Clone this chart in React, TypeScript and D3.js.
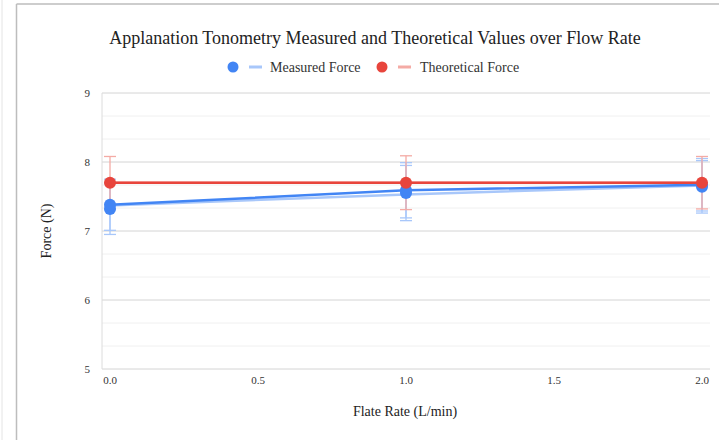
import React from 'react';
import { scaleLinear, line, range } from 'd3';

// flow rate (L/min)
const flowRates = [0, 1, 2];
// measured force, two trials (N)
const measuredA = [7.38, 7.59, 7.67];
const measuredB = [7.32, 7.55, 7.64];
const measuredTrend = [7.37, 7.53, 7.66];
const measuredErr = [0.37, 0.4, 0.38];
// theoretical force (N)
const theoretical = [7.7, 7.7, 7.7];
const theoreticalErr = [0.38, 0.39, 0.38];

const yTicks = [5, 6, 7, 8, 9];
const xTicks = [0, 0.5, 1, 1.5, 2];

const W = 719;
const H = 440;
const BLUE = '#4285f4';
const BLUE_LIGHT = '#a8c7fa';
const RED = '#e8453c';
const RED_LIGHT = '#f4aba5';
const serif = { fontFamily: "'Liberation Serif', 'Times New Roman', Times, 'DejaVu Serif', serif" };

export default function App() {
  const x = scaleLinear().domain([0, 2]).range([110, 702]);
  const y = scaleLinear().domain([5, 9]).range([369, 93]);
  const minor = range(5, 9.001, 1 / 3);

  const path = (vals: number[]) =>
    line<number>()
      .x((_, i) => x(flowRates[i]))
      .y(d => y(d))(vals) || '';

  const errBars = (vals: number[], errs: number[], color: string, key: string) =>
    vals.map((v, i) => {
      const cx = x(flowRates[i]);
      const top = y(v + errs[i]);
      const bot = y(v - errs[i]);
      return (
        <g key={key + i} stroke={color} strokeWidth={1.3}>
          <line x1={cx} x2={cx} y1={top} y2={bot} />
          <line x1={cx - 6} x2={cx + 6} y1={top} y2={top} />
          <line x1={cx - 6} x2={cx + 6} y1={bot} y2={bot} />
        </g>
      );
    });

  return (
    <svg width={W} height={H} style={{ position: 'fixed', top: 0, left: 0, background: '#fff' }}>
      {/* container frame */}
      <line x1={2} x2={2} y1={0} y2={H} stroke="#e4e4e4" strokeWidth={1} />
      <line x1={16.5} x2={16.5} y1={4} y2={H} stroke="#bdbdbd" strokeWidth={1.5} />
      <line x1={16.5} x2={W} y1={4} y2={4} stroke="#bdbdbd" strokeWidth={1.5} />

      <text x={375} y={44} textAnchor="middle" style={serif} fontSize={18} fill="#222">
        Applanation Tonometry Measured and Theoretical Values over Flow Rate
      </text>

      {/* legend */}
      <g style={serif} fontSize={14} fill="#333">
        <circle cx={233} cy={67} r={5.5} fill={BLUE} />
        <line x1={249} x2={262} y1={67} y2={67} stroke={BLUE_LIGHT} strokeWidth={3} />
        <text x={270} y={71.5}>Measured Force</text>
        <circle cx={382} cy={67} r={5.5} fill={RED} />
        <line x1={398} x2={411} y1={67} y2={67} stroke={RED_LIGHT} strokeWidth={3} />
        <text x={420} y={71.5}>Theoretical Force</text>
      </g>

      {/* grid */}
      {minor.map((v, i) => (
        <line key={'m' + i} x1={102} x2={710} y1={y(v)} y2={y(v)} stroke="#f0f0f0" strokeWidth={1} />
      ))}
      {yTicks.map(v => (
        <line key={'g' + v} x1={102} x2={710} y1={y(v)} y2={y(v)} stroke="#dcdcdc" strokeWidth={1} />
      ))}
      <line x1={102} x2={102} y1={y(9)} y2={y(5)} stroke="#dcdcdc" strokeWidth={1} />

      {/* tick labels */}
      <g style={serif} fontSize={11} fill="#333">
        {yTicks.map(v => (
          <text key={'yt' + v} x={90} y={y(v) + 4} textAnchor="end">{v}</text>
        ))}
        {xTicks.map(v => (
          <text key={'xt' + v} x={x(v)} y={384} textAnchor="middle">{v.toFixed(1)}</text>
        ))}
      </g>

      <text x={405} y={416} textAnchor="middle" style={serif} fontSize={14} fill="#222">
        Flate Rate (L/min)
      </text>
      <text transform="translate(51,231) rotate(-90)" textAnchor="middle" style={serif} fontSize={14} fill="#222">
        Force (N)
      </text>

      {/* error bars */}
      {errBars(measuredA, measuredErr, BLUE_LIGHT, 'ea')}
      {errBars(measuredB, measuredErr, BLUE_LIGHT, 'eb')}
      {errBars(theoretical, theoreticalErr, RED_LIGHT, 'er')}

      {/* lines */}
      <path d={path(measuredTrend)} fill="none" stroke={BLUE_LIGHT} strokeWidth={2.5} />
      <path d={path(measuredA)} fill="none" stroke={BLUE} strokeWidth={2.5} />
      <path d={path(theoretical)} fill="none" stroke={RED_LIGHT} strokeWidth={2.5} />
      <path d={path(theoretical)} fill="none" stroke={RED} strokeWidth={2.5} />

      {/* points */}
      {measuredB.map((v, i) => (
        <circle key={'pb' + i} cx={x(flowRates[i])} cy={y(v)} r={6} fill={BLUE} />
      ))}
      {measuredA.map((v, i) => (
        <circle key={'pa' + i} cx={x(flowRates[i])} cy={y(v)} r={6} fill={BLUE} />
      ))}
      {theoretical.map((v, i) => (
        <circle key={'pr' + i} cx={x(flowRates[i])} cy={y(v)} r={6} fill={RED} />
      ))}
    </svg>
  );
}
